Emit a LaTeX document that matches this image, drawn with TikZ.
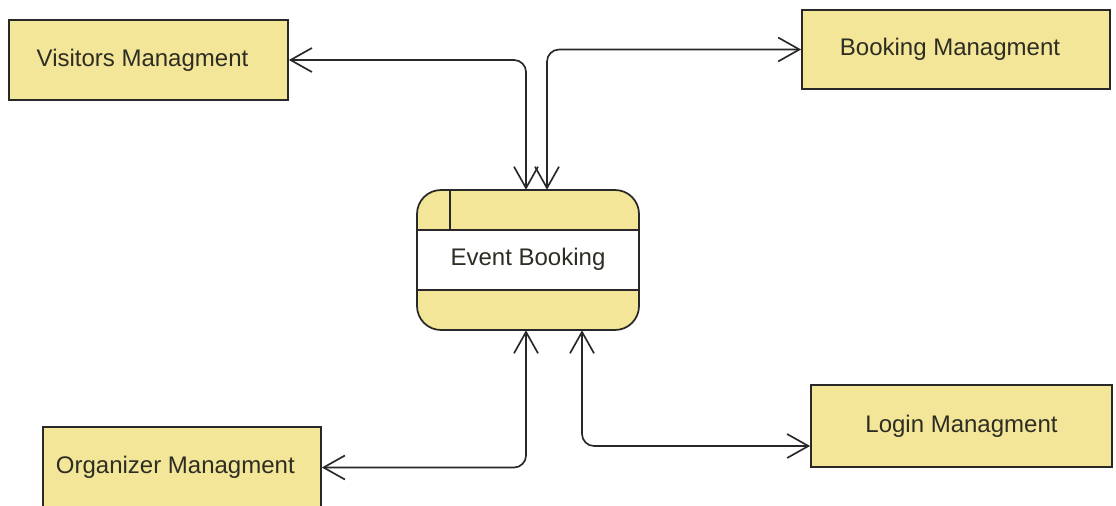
\documentclass[tikz,border=0pt]{standalone}
\usepackage{fontspec}
\setmainfont{Liberation Sans}
\usetikzlibrary{arrows.meta,calc}
\definecolor{boxyellow}{RGB}{243,230,152}
\definecolor{linegray}{RGB}{40,40,40}
\definecolor{textgray}{RGB}{45,45,35}
\begin{document}
\begin{tikzpicture}[x=0.75pt,y=-0.75pt,
  every node/.style={font=\fontsize{18}{21}\selectfont, text=textgray},
  mgmt/.style={draw=linegray, line width=1.3pt, fill=boxyellow, inner sep=0pt},
  evbody/.style={fill=boxyellow, draw=none, rounded corners=18pt, minimum width=166.5pt, minimum height=105pt, inner sep=0pt},
  evframe/.style={draw=linegray, line width=1.3pt, fill=none, rounded corners=18pt, minimum width=166.5pt, minimum height=105pt, inner sep=0pt},
  sep/.style={draw=linegray, line width=1.3pt},
  conn/.style={draw=linegray, line width=1.25pt, rounded corners=9pt,
    {Straight Barb[length=16pt,width=18pt,line width=1.25pt]}-{Straight Barb[length=16pt,width=18pt,line width=1.25pt]}}]
\useasboundingbox (0,0) rectangle (1116,506);

% external boxes
\node[mgmt, minimum width=209.25pt, minimum height=60pt] (vis) at (148.5,60) {Visitors Managment\hspace*{9pt}};
\node[mgmt, minimum width=231pt, minimum height=59.25pt] (book) at (956,49.5) {Booking Managment\hspace*{9pt}};
\node[mgmt, minimum width=208.5pt, minimum height=60.75pt] (org) at (182,467.5) {Organizer Managment\hspace*{10pt}};
\node[mgmt, minimum width=225.75pt, minimum height=61.5pt] (login) at (961.5,426) {Login Managment};

% central process
\node[evbody] (event) at (528,260) {};
\fill[white] ($(event.west)+(0,-30)$) rectangle ($(event.east)+(0,30)$);
\draw[sep] ($(event.west)+(0,-30)$) -- ($(event.east)+(0,-30)$);
\draw[sep] ($(event.west)+(0,30)$) -- ($(event.east)+(0,30)$);
\draw[sep] ($(event.north west)+(33,0)$) -- ($(event.north west)+(33,40)$);
\node[evframe] (evframe) at (event.center) {};
\node (evlabel) at ($(event.center)+(0,-1)$) {Event Booking};

% connectors
\draw[conn] (vis.east) -| ($(event.north)+(-2,0)$);
\draw[conn] ($(event.north)+(19,0)$) |- (book.west);
\draw[conn] ($(event.south)+(-2,0)$) |- (org.east);
\draw[conn] ($(event.south)+(54,0)$) |- ($(login.west)+(0,20)$);
\end{tikzpicture}
\end{document}
